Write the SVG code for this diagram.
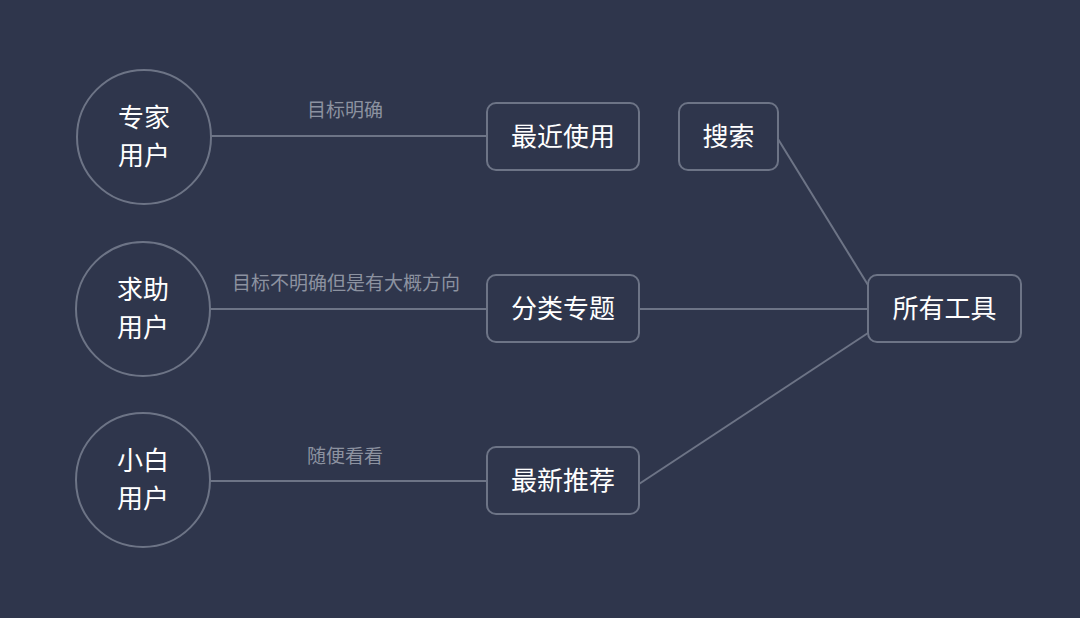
<svg xmlns="http://www.w3.org/2000/svg" width="1080" height="618" viewBox="0 0 1080 618">
<style>
.bg{fill:#2f364c}
.c,.b{fill:#2f364c;stroke:#6d7486;stroke-width:2}
.e{stroke:#6d7486;stroke-width:2;fill:none}
.t{font-family:"Noto Sans CJK SC","Noto Sans",sans-serif;font-size:26px;fill:#ffffff;text-anchor:middle}
.l{font-family:"Noto Sans CJK SC","Noto Sans",sans-serif;font-size:19px;fill:#8c92a0;text-anchor:middle}
</style>
<rect class="bg" x="0" y="0" width="1080" height="618"/>
<g id="connectors">
<line class="e" x1="211" y1="136" x2="487" y2="136"/>
<line class="e" x1="210" y1="309" x2="487" y2="309"/>
<line class="e" x1="210" y1="481" x2="487" y2="481"/>
<line class="e" x1="639" y1="309" x2="868" y2="309"/>
<line class="e" x1="778" y1="139" x2="868" y2="285"/>
<line class="e" x1="639" y1="484" x2="868" y2="333"/>
<text class="l" x="345" y="117">目标明确</text>
<text class="l" x="346" y="290">目标不明确但是有大概方向</text>
<text class="l" x="345" y="463">随便看看</text>
</g>
<g id="n1"><circle class="c" cx="144" cy="137" r="67"/><text class="t" x="144" y="127">专家</text><text class="t" x="144" y="165">用户</text></g>
<g id="n2"><circle class="c" cx="143" cy="309" r="67"/><text class="t" x="143" y="299">求助</text><text class="t" x="143" y="337">用户</text></g>
<g id="n3"><circle class="c" cx="143" cy="480" r="67"/><text class="t" x="143" y="470">小白</text><text class="t" x="143" y="508">用户</text></g>
<g id="b1"><rect class="b" x="487" y="103" width="152" height="67" rx="9"/><text class="t" x="563" y="146">最近使用</text></g>
<g id="b2"><rect class="b" x="679" y="103" width="99" height="67" rx="9"/><text class="t" x="728.5" y="146">搜索</text></g>
<g id="b3"><rect class="b" x="487" y="275" width="152" height="67" rx="9"/><text class="t" x="563" y="318">分类专题</text></g>
<g id="b4"><rect class="b" x="487" y="447" width="152" height="67" rx="9"/><text class="t" x="563" y="490">最新推荐</text></g>
<g id="b5"><rect class="b" x="868" y="275" width="153" height="67" rx="9"/><text class="t" x="944.5" y="318">所有工具</text></g>
</svg>
